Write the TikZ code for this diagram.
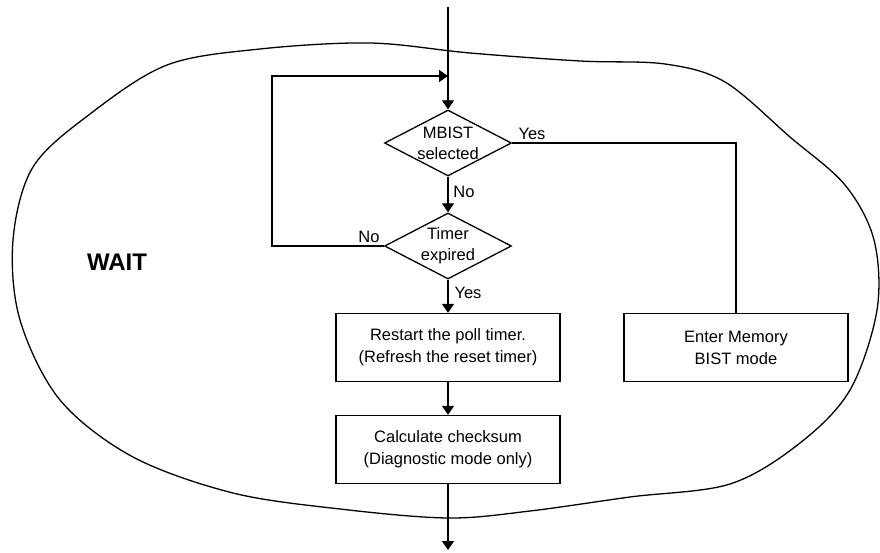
\documentclass[tikz,border=0pt]{standalone}
\usepackage{fontspec}
\setmainfont{Liberation Sans}
\usetikzlibrary{shapes.geometric,arrows.meta}

\tikzset{
  block/.style={draw,rectangle,line width=1.3pt,minimum width=224pt,minimum height=68pt,
    align=center,font=\fontsize{16.5}{22}\selectfont},
  decision/.style={draw,diamond,line width=1.3pt,minimum width=127pt,minimum height=66pt,inner sep=0pt},
  tag/.style={font=\fontsize{16.5}{21}\selectfont},
  flow/.style={line width=1.3pt,-{Triangle[length=9pt,width=12pt]}},
  link/.style={line width=1.3pt}
}

\begin{document}
\begin{tikzpicture}[x=1pt,y=-1pt]
\useasboundingbox (0,0) rectangle (880,553);

% WAIT state outline
\draw[link] plot[smooth cycle,tension=0.55] coordinates {
  (167,65) (260,49) (370,43) (470,53) (580,61) (665,64) (725,82) (790,137)
  (845,185) (874,240) (877,310) (850,390) (800,443) (730,484) (630,497) (530,511) (448,518)
  (340,509) (233,493) (133,457) (60,400) (20,320) (13,240) (33,167) (90,114)};
\node[font=\fontsize{24}{24}\selectfont\bfseries] (wait) at (117,262) {WAIT};

% Entry points
\coordinate (entry) at (448,7);
\coordinate (join) at (448,76);
\coordinate (exit) at (448,550);

% Decisions
\node[decision,label={[tag,align=center]center:MBIST\\selected}] (mbist) at (448,143) {};
\node[decision,label={[tag,align=center]center:Timer\\expired}] (timer) at (448,246) {};

% Actions
\node[block] (restart) at (448,347.5) {Restart the poll timer.\\(Refresh the reset timer)};
\node[block] (calc) at (448,449.5) {Calculate checksum\\(Diagnostic mode only)};
\node[block] (membist) at (736,347.5) {Enter Memory\\BIST mode};

% Flow
\draw[flow] (entry) -- (mbist.north);
\draw[flow] (mbist.south) -- (timer.north);
\draw[flow] (timer.south) -- (restart.north);
\draw[flow] (restart.south) -- (calc.north);
\draw[flow] (calc.south) -- (exit);
\draw[link] (mbist.east) -| (membist.north);
\draw[flow] (timer.west) -- ++(-112,0) |- (join);

% Branch labels
\node[tag] (mbistyes) at (532,134) {Yes};
\node[tag] (mbistno) at (464,192) {No};
\node[tag] (timerno) at (369,237) {No};
\node[tag] (timeryes) at (468,293) {Yes};
\end{tikzpicture}
\end{document}
